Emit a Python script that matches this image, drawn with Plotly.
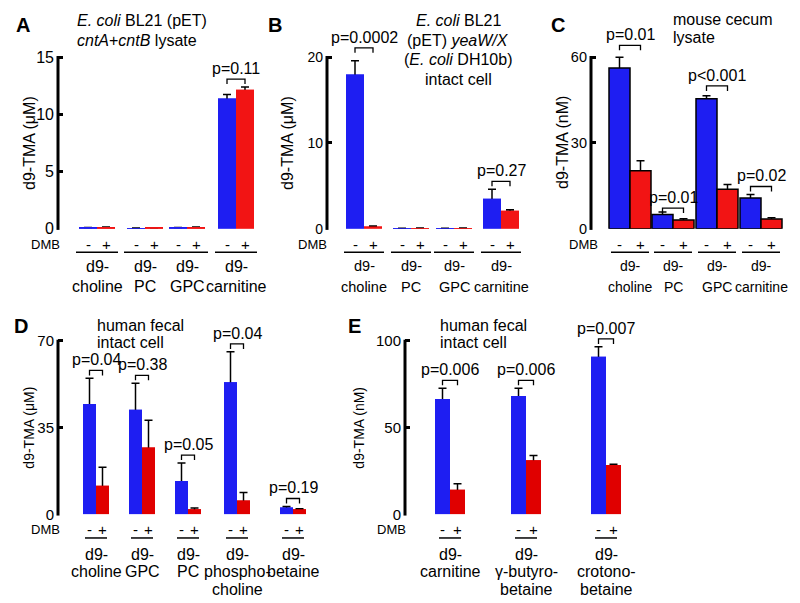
import plotly.graph_objects as go

W, H = 800, 603
FONT = "Arial, Liberation Sans, sans-serif"
BLUE = "#1e1ef2"
RED = "#f21414"
RED2 = "#e00000"

# ---------------- data ----------------
ABC_groups = ["d9-<br>choline", "d9-<br>PC", "d9-<br>GPC", "d9-<br>carnitine"]

A_minus = [0.10, 0.05, 0.10, 11.4]
A_minus_err = [0, 0, 0, 0.35]
A_plus = [0.15, 0.07, 0.15, 12.15]
A_plus_err = [0, 0, 0, 0.25]
A_p = [None, None, None, "p=0.11"]
A_ticks = [0, 5, 10, 15]

B_minus = [18.0, 0.05, 0.05, 3.5]
B_minus_err = [1.6, 0, 0, 1.1]
B_plus = [0.25, 0.08, 0.08, 2.1]
B_plus_err = [0.05, 0, 0, 0.1]
B_p = ["p=0.0002", None, None, "p=0.27"]
B_ticks = [0, 10, 20]

C_minus = [56.2, 5.0, 45.5, 10.7]
C_minus_err = [3.8, 0.8, 1.0, 1.3]
C_plus = [20.3, 3.0, 13.8, 3.4]
C_plus_err = [3.5, 0.5, 1.7, 0.4]
C_p = ["p=0.01", "p=0.01", "p<0.001", "p=0.02"]
C_ticks = [0, 30, 60]

D_groups = ["d9-<br>choline", "d9-<br>GPC", "d9-<br>PC", "d9-<br>phospho-<br>choline", "d9-<br>betaine"]
D_minus = [44.5, 42.2, 13.5, 53.3, 2.8]
D_minus_err = [10.4, 10.7, 7.2, 12.3, 0.4]
D_plus = [11.5, 27.0, 2.0, 5.6, 2.0]
D_plus_err = [7.5, 11.0, 0.6, 3.2, 0.3]
D_p = ["p=0.04", "p=0.38", "p=0.05", "p=0.04", "p=0.19"]
D_ticks = [0, 35, 70]

E_groups = ["d9-<br>carnitine", "d9-<br>γ-butyro-<br>betaine", "d9-<br>crotono-<br>betaine"]
E_minus = [66.5, 68.2, 90.9]
E_minus_err = [6.2, 4.5, 5.7]
E_plus = [14.2, 31.2, 28.4]
E_plus_err = [3.4, 2.8, 0.5]
E_p = ["p=0.006", "p=0.006", "p=0.007"]
E_ticks = [0, 50, 100]

# ---------------- layout helpers ----------------
def fx(px):
    return px / W

def fy(py):
    return 1 - py / H

fig = go.Figure()
layout = dict(width=W, height=H, margin=dict(l=0, r=0, t=0, b=0),
              paper_bgcolor="white", plot_bgcolor="white",
              showlegend=False, barmode="overlay",
              font=dict(family=FONT, color="black"))
annotations = []
shapes = []


def text(x, y, s, size=16, xref="paper", yref="paper", xanchor="center",
         yanchor="middle", bold=False, angle=0):
    if bold:
        s = "<b>" + s + "</b>"
    annotations.append(dict(x=x, y=y, xref=xref, yref=yref, text=s,
                            showarrow=False, xanchor=xanchor, yanchor=yanchor,
                            textangle=angle,
                            font=dict(family=FONT, size=size, color="black")))


def panel(idx, groups, minus, minus_err, plus, plus_err, pvals, ticks,
          ax_px, centers, R, y0, y1, top, barw, blue, red, outline,
          tick_size, title_size, label_size, p_size, ytitle, ytitle_x,
          uline_half, letter, letter_xy, sign_y, uline_y, label_y, label_dy,
          dmb_x, br_extra=None):
    xa = "xaxis" if idx == 1 else "xaxis%d" % idx
    ya = "yaxis" if idx == 1 else "yaxis%d" % idx
    xr = "x" if idx == 1 else "x%d" % idx
    yr = "y" if idx == 1 else "y%d" % idx
    c0 = centers[0]
    S = (centers[-1] - c0) / (len(centers) - 1)
    ymax = ticks[-1]
    scale = (y0 - y1) / ymax
    x_lo = -(c0 - ax_px) / S
    x_hi = (R - c0) / S
    y_hi = (y0 - top) / scale
    layout[xa] = dict(domain=[fx(ax_px), fx(R)], range=[x_lo, x_hi],
                      visible=False, anchor=yr, fixedrange=True)
    layout[ya] = dict(domain=[fy(y0), fy(top)], range=[0, y_hi], anchor=xr,
                      tickvals=ticks, ticktext=[str(t) for t in ticks],
                      ticks="inside", ticklen=5, tickwidth=2.5,
                      tickcolor="black", showline=False, showgrid=False,
                      zeroline=False, ticklabelstandoff=3,
                      tickfont=dict(family=FONT, size=tick_size, color="black"))
    # y axis line (from 0 to top tick)
    shapes.append(dict(type="line", xref="paper", yref="paper",
                       x0=fx(ax_px), x1=fx(ax_px),
                       y0=fy(y0) - 1.25 / H, y1=fy(y1) + 1.25 / H,
                       line=dict(color="black", width=3)))
    n = len(groups)
    if br_extra is None:
        br_extra = [0] * n
    xs = [(c - c0) / S for c in centers]
    w = barw / S
    lw = 1.5 if outline else 0
    for vals, errs, col, off in ((minus, minus_err, blue, -w), (plus, plus_err, red, 0)):
        # error bars (drawn first, lower half hidden behind bars)
        fig.add_trace(go.Bar(x=xs, y=vals, width=w, offset=off,
                             marker=dict(color=col, line=dict(width=0)),
                             error_y=dict(type="data", array=errs, symmetric=True,
                                          color="black", thickness=1.5, width=4),
                             xaxis=xr, yaxis=yr, hoverinfo="skip"))
    for vals, col, off in ((minus, blue, -w), (plus, red, 0)):
        fig.add_trace(go.Bar(x=xs, y=vals, width=w, offset=off,
                             marker=dict(color=col,
                                         line=dict(width=lw, color="black")),
                             xaxis=xr, yaxis=yr, hoverinfo="skip"))
    # brackets & p values
    for i in range(n):
        if not pvals[i]:
            continue
        top_val = max(minus[i] + minus_err[i], plus[i] + plus_err[i])
        top_px = y0 - top_val * scale
        br_px = top_px - 8 - br_extra[i]
        xl, xrr = xs[i] - w / 2, xs[i] + w / 2
        yb = (y0 - br_px) / scale
        yl = (y0 - br_px - 5) / scale
        shapes.append(dict(type="path", xref=xr, yref=yr,
                           path="M %f,%f L %f,%f L %f,%f L %f,%f" % (xl, yl, xl, yb, xrr, yb, xrr, yl),
                           line=dict(color="black", width=1.3)))
        text(xs[i], fy(br_px - 11), pvals[i], size=p_size, xref=xr)
    # axis title
    text(fx(ytitle_x), fy((y0 + y1) / 2), ytitle, size=title_size, angle=-90)
    # DMB row
    text(fx(dmb_x), fy(sign_y), "DMB", size=13, xanchor="right")
    for i in range(n):
        text(xs[i] - w / 2, fy(sign_y), "-", size=15, xref=xr)
        text(xs[i] + w / 2, fy(sign_y), "+", size=15, xref=xr)
        cpx = centers[i]
        shapes.append(dict(type="line", xref="paper", yref="paper",
                           x0=fx(cpx - uline_half), x1=fx(cpx + uline_half),
                           y0=fy(uline_y), y1=fy(uline_y),
                           line=dict(color="black", width=1.5)))
        for k, ln in enumerate(groups[i].split("<br>")):
            text(xs[i], fy(label_y + k * label_dy), ln, size=label_size, xref=xr)
    # panel letter
    text(fx(letter_xy[0]), fy(letter_xy[1]), letter, size=20, bold=True)


def title(lines, x, y_first, spacing, size=16, anchor="left"):
    for k, ln in enumerate(lines):
        text(fx(x), fy(y_first + k * spacing), ln, size=size, xanchor=anchor)


# Panel A
panel(1, ABC_groups, A_minus, A_minus_err, A_plus, A_plus_err, A_p, A_ticks,
      ax_px=50, centers=[89, 137, 179, 228], R=258, y0=224, y1=50, top=5,
      barw=18, blue=BLUE, red=RED, outline=False,
      tick_size=16, title_size=16, label_size=16, p_size=16,
      ytitle="d9-TMA (μM)", ytitle_x=22, uline_half=21,
      letter="A", letter_xy=(15, 17), sign_y=240, uline_y=248,
      label_y=262, label_dy=21, dmb_x=54)
# Panel B
panel(2, ABC_groups, B_minus, B_minus_err, B_plus, B_plus_err, B_p, B_ticks,
      ax_px=319, centers=[356, 403, 446, 493], R=520, y0=224, y1=50, top=5,
      barw=18, blue=BLUE, red=RED, outline=False,
      tick_size=14, title_size=16, label_size=14.5, p_size=16,
      ytitle="d9-TMA (μM)", ytitle_x=280, uline_half=20,
      letter="B", letter_xy=(267, 17), sign_y=240, uline_y=248,
      label_y=262, label_dy=21, dmb_x=321, br_extra=[5, 0, 0, 0])
# Panel C
panel(3, ABC_groups, C_minus, C_minus_err, C_plus, C_plus_err, C_p, C_ticks,
      ax_px=583, centers=[622, 665, 709, 753], R=795, y0=224, y1=50, top=5,
      barw=21, blue=BLUE, red=RED, outline=True,
      tick_size=14.5, title_size=16, label_size=14, p_size=16,
      ytitle="d9-TMA (nM)", ytitle_x=555, uline_half=19,
      letter="C", letter_xy=(550, 17), sign_y=240, uline_y=248,
      label_y=262, label_dy=21, dmb_x=592, br_extra=[4, -4, 2, 0])
# Panel D
panel(4, D_groups, D_minus, D_minus_err, D_plus, D_plus_err, D_p, D_ticks,
      ax_px=50, centers=[88, 134, 180, 229, 285], R=330, y0=514, y1=338, top=300,
      barw=13, blue=BLUE, red=RED2, outline=False,
      tick_size=15, title_size=14, label_size=16, p_size=16,
      ytitle="d9-TMA (μM)", ytitle_x=21, uline_half=11,
      letter="D", letter_xy=(13, 323), sign_y=529, uline_y=538,
      label_y=555, label_dy=17.5, dmb_x=54)
# Panel E
panel(5, E_groups, E_minus, E_minus_err, E_plus, E_plus_err, E_p, E_ticks,
      ax_px=397, centers=[442, 518, 598], R=660, y0=514, y1=338, top=300,
      barw=15, blue=BLUE, red=RED2, outline=False,
      tick_size=15, title_size=14, label_size=16, p_size=16,
      ytitle="d9-TMA (nM)", ytitle_x=351, uline_half=11,
      letter="E", letter_xy=(346, 323), sign_y=529, uline_y=538,
      label_y=555, label_dy=17.5, dmb_x=400)

# condition titles
title(["<i>E. coli</i> BL21 (pET)", "<i>cntA</i>+<i>cntB</i> lysate"], 67, 13, 20)
title(["<i>E. coli</i> BL21", "(pET) <i>yeaW/X</i>", "(<i>E. coli</i> DH10b)", "intact cell"],
      450, 13, 19.7, size=16, anchor="center")
title(["mouse cecum", "lysate"], 663, 12, 18)
title(["human fecal", "intact cell"], 87, 322, 18)
title(["human fecal", "intact cell"], 430, 322, 18)

layout["annotations"] = annotations
layout["shapes"] = shapes
fig.update_layout(**layout)
fig.write_html("out.html")
